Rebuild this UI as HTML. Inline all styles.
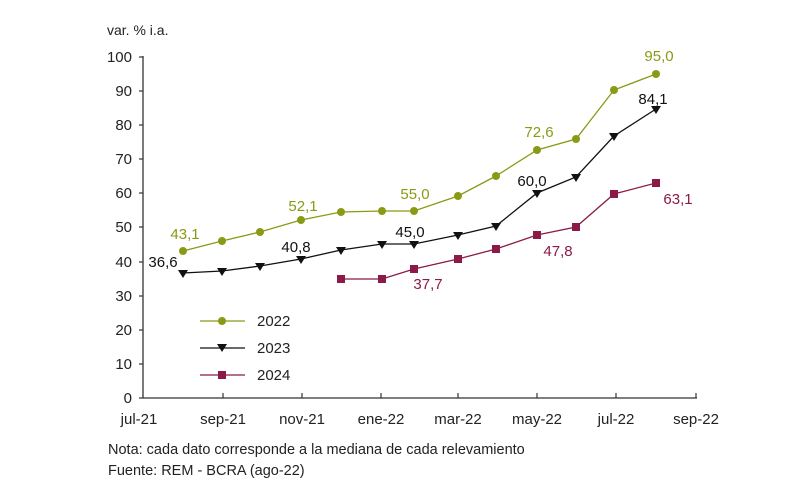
<!DOCTYPE html>
<html><head><meta charset="utf-8"><style>
body{margin:0;background:#fff;}
svg text{font-family:"Liberation Sans",sans-serif;}
</style></head><body>
<svg width="800" height="499" viewBox="0 0 800 499" xmlns="http://www.w3.org/2000/svg">
<rect width="800" height="499" fill="#fff"/>
<g font-size="15" fill="#222">
<text x="107" y="35" font-size="14" transform="scale(1,1)">var. % i.a.</text>
</g>
<g stroke="#333" stroke-width="1.3" fill="none">
<line x1="143" y1="56" x2="143" y2="398"/>
<line x1="143" y1="398" x2="697" y2="398"/>
</g>
<g stroke="#333" stroke-width="1.2">
<line x1="139" y1="398" x2="143" y2="398"/><line x1="139" y1="364" x2="143" y2="364"/><line x1="139" y1="330" x2="143" y2="330"/><line x1="139" y1="296" x2="143" y2="296"/><line x1="139" y1="262" x2="143" y2="262"/><line x1="139" y1="227" x2="143" y2="227"/><line x1="139" y1="193" x2="143" y2="193"/><line x1="139" y1="159" x2="143" y2="159"/><line x1="139" y1="125" x2="143" y2="125"/><line x1="139" y1="91" x2="143" y2="91"/><line x1="139" y1="57" x2="143" y2="57"/>
<line x1="223" y1="393" x2="223" y2="398"/><line x1="302" y1="393" x2="302" y2="398"/><line x1="381" y1="393" x2="381" y2="398"/><line x1="458" y1="393" x2="458" y2="398"/><line x1="537" y1="393" x2="537" y2="398"/><line x1="616" y1="393" x2="616" y2="398"/><line x1="696" y1="393" x2="696" y2="398"/>
</g>
<g font-size="15" fill="#222" text-anchor="end">
<text x="132" y="403">0</text><text x="132" y="369">10</text><text x="132" y="335">20</text><text x="132" y="301">30</text><text x="132" y="267">40</text><text x="132" y="232">50</text><text x="132" y="198">60</text><text x="132" y="164">70</text><text x="132" y="130">80</text><text x="132" y="96">90</text><text x="132" y="62">100</text>
</g>
<g font-size="15" fill="#222" text-anchor="middle">
<text x="139" y="424">jul-21</text><text x="223" y="424">sep-21</text><text x="302" y="424">nov-21</text><text x="381" y="424">ene-22</text><text x="458" y="424">mar-22</text><text x="537" y="424">may-22</text><text x="616" y="424">jul-22</text><text x="696" y="424">sep-22</text>
</g>
<g font-size="14.5" fill="#222">
<text x="108" y="454">Nota: cada dato corresponde a la mediana de cada relevamiento</text>
<text x="108" y="475">Fuente: REM - BCRA (ago-22)</text>
</g>
<!-- 2022 -->
<polyline fill="none" stroke="#8a9a14" stroke-width="1.3" points="183,251 222,241 260,232 301,220 341,212 382,211 414,211 458,196 496,176 537,150 576,139 614,90 656,74"/>
<g fill="#8a9a14">
<circle cx="183" cy="251" r="4"/><circle cx="222" cy="241" r="4"/><circle cx="260" cy="232" r="4"/><circle cx="301" cy="220" r="4"/><circle cx="341" cy="212" r="4"/><circle cx="382" cy="211" r="4"/><circle cx="414" cy="211" r="4"/><circle cx="458" cy="196" r="4"/><circle cx="496" cy="176" r="4"/><circle cx="537" cy="150" r="4"/><circle cx="576" cy="139" r="4"/><circle cx="614" cy="90" r="4"/><circle cx="656" cy="74" r="4"/>
</g>
<!-- 2023 -->
<polyline fill="none" stroke="#111" stroke-width="1.3" points="183,273 222,271 260,266 301,259 341,250 382,244 414,244 458,235 496,226 537,193 576,177 614,136 656,109"/>
<g fill="#111">
<path d="M178,270h10l-5,8z"/><path d="M217,268h10l-5,8z"/><path d="M255,263h10l-5,8z"/><path d="M296,256h10l-5,8z"/><path d="M336,247h10l-5,8z"/><path d="M377,241h10l-5,8z"/><path d="M409,241h10l-5,8z"/><path d="M453,232h10l-5,8z"/><path d="M491,223h10l-5,8z"/><path d="M532,190h10l-5,8z"/><path d="M571,174h10l-5,8z"/><path d="M609,133h10l-5,8z"/><path d="M651,106h10l-5,8z"/>
</g>
<!-- 2024 -->
<polyline fill="none" stroke="#8b1a48" stroke-width="1.3" points="341,279 382,279 414,269 458,259 496,249 537,235 576,227 614,194 656,183"/>
<g fill="#8b1a48">
<rect x="337" y="275" width="8" height="8"/><rect x="378" y="275" width="8" height="8"/><rect x="410" y="265" width="8" height="8"/><rect x="454" y="255" width="8" height="8"/><rect x="492" y="245" width="8" height="8"/><rect x="533" y="231" width="8" height="8"/><rect x="572" y="223" width="8" height="8"/><rect x="610" y="190" width="8" height="8"/><rect x="652" y="179" width="8" height="8"/>
</g>
<!-- labels -->
<g font-size="15" text-anchor="middle">
<g fill="#8a9a14"><text x="185" y="239">43,1</text><text x="303" y="211">52,1</text><text x="415" y="199">55,0</text><text x="539" y="137">72,6</text><text x="659" y="61">95,0</text></g>
<g fill="#111"><text x="163" y="267">36,6</text><text x="296" y="252">40,8</text><text x="410" y="237">45,0</text><text x="532" y="186">60,0</text><text x="653" y="104">84,1</text></g>
<g fill="#8b1a48"><text x="428" y="289">37,7</text><text x="558" y="256">47,8</text><text x="678" y="204">63,1</text></g>
</g>
<!-- legend -->
<line x1="200" y1="321" x2="245" y2="321" stroke="#8a9a14" stroke-width="1.3"/><circle cx="222" cy="321" r="4" fill="#8a9a14"/>
<line x1="200" y1="348" x2="245" y2="348" stroke="#111" stroke-width="1.3"/><path d="M217,344h10l-5,8z" fill="#111"/>
<line x1="200" y1="375" x2="245" y2="375" stroke="#8b1a48" stroke-width="1.3"/><rect x="218" y="371" width="8" height="8" fill="#8b1a48"/>
<g font-size="15" fill="#222"><text x="257" y="326">2022</text><text x="257" y="353">2023</text><text x="257" y="380">2024</text></g>
</svg>
</body></html>
